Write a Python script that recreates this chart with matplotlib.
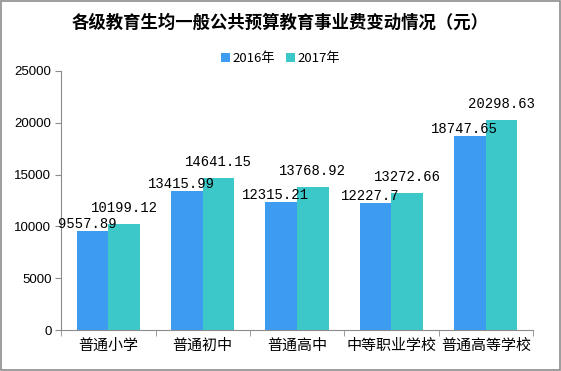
import matplotlib
matplotlib.use("Agg")
import matplotlib.pyplot as plt
import numpy as np
from matplotlib.patches import Rectangle

plt.rcParams['font.family'] = ['Noto Sans CJK SC', 'DejaVu Sans']

# данные
categories = ["普通小学", "普通初中", "普通高中", "中等职业学校", "普通高等学校"]
values_2016 = [9557.89, 13415.99, 12315.21, 12227.7, 18747.65]
values_2017 = [10199.12, 14641.15, 13768.92, 13272.66, 20298.63]
label_2016 = ["9557.89", "13415.99", "12315.21", "12227.7", "18747.65"]
label_2017 = ["10199.12", "14641.15", "13768.92", "13272.66", "20298.63"]
series_names = ["2016年", "2017年"]
yticks = [0, 5000, 10000, 15000, 20000, 25000]

c16 = "#3e9cf0"
c17 = "#3cc8c8"
gray = "#8c8c8c"

fig = plt.figure(figsize=(5.61, 3.71), dpi=100)
ax = fig.add_axes([0.109, 0.11, 0.841, 0.699])

x = np.arange(len(categories))
w = 0.335
ax.bar(x - w / 2, values_2016, w, color=c16, label=series_names[0])
ax.bar(x + w / 2, values_2017, w, color=c17, label=series_names[1])

# подписи значений
for i in range(len(categories)):
    ax.annotate(label_2016[i], (x[i] - w / 2, values_2016[i]), xytext=(-4, 5),
                textcoords="offset points", ha="center", va="center",
                fontsize=10, family="Liberation Mono")
    ax.annotate(label_2017[i], (x[i] + w / 2, values_2017[i]), xytext=(0, 11.5),
                textcoords="offset points", ha="center", va="center",
                fontsize=10, family="Liberation Mono")

ax.set_xlim(-0.5, len(categories) - 0.5)
ax.set_ylim(0, 25000)
ax.set_yticks(yticks)
ax.set_yticklabels([str(v) for v in yticks], fontsize=9.5, family="Liberation Sans")
ax.set_xticks(x)
ax.set_xticklabels(categories, fontsize=10.8)
ax.set_xticks(np.arange(-0.5, len(categories)), minor=True)
ax.tick_params(axis="x", which="major", length=0, pad=6)
ax.tick_params(axis="x", which="minor", length=4, color=gray, direction="out")
ax.tick_params(axis="y", length=4, color=gray, direction="out", pad=3)

for s in ["top", "right"]:
    ax.spines[s].set_visible(False)
for s in ["left", "bottom"]:
    ax.spines[s].set_color(gray)

fig.text(0.5, 0.938, "各级教育生均一般公共预算教育事业费变动情况（元）",
         ha="center", va="center", fontsize=12.5, fontweight="bold")

ax.legend(loc="center", bbox_to_anchor=(0.5, 0.843), bbox_transform=fig.transFigure,
          ncol=2, frameon=False, fontsize=9.5, handlelength=0.7, handleheight=0.7,
          handletextpad=0.2, columnspacing=0.8)

# рамка вокруг рисунка
fig.patches.append(Rectangle((0.002, 0.004), 0.996, 0.992, transform=fig.transFigure,
                             fill=False, edgecolor=gray, linewidth=1.2))

fig.savefig("out.png", dpi=100)
